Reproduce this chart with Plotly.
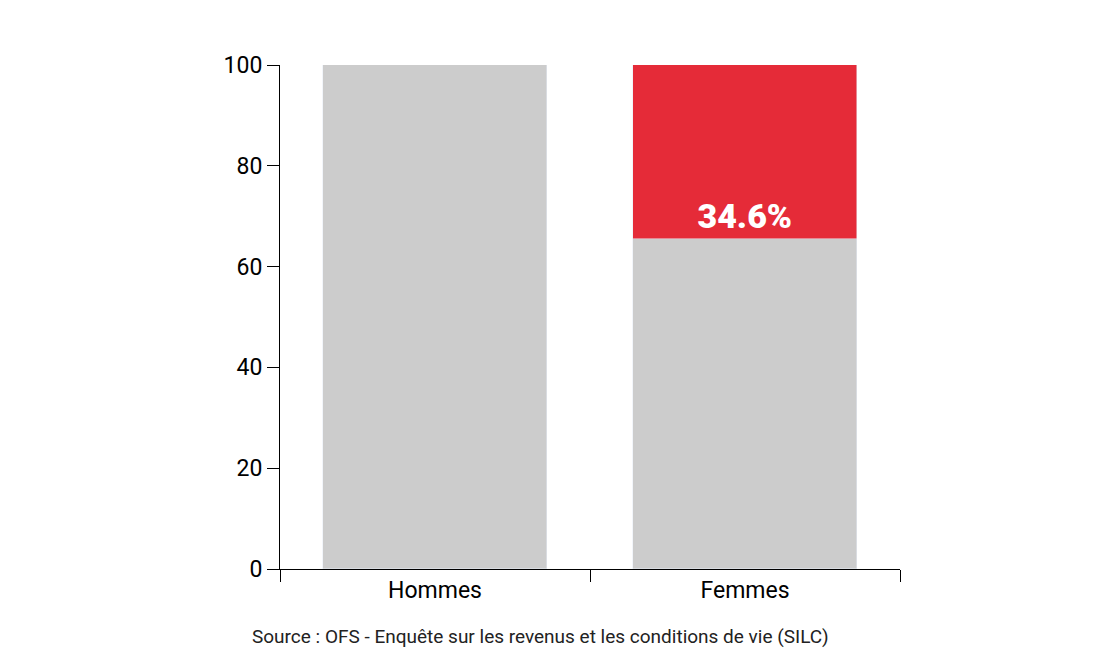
import plotly.graph_objects as go

groups = ["Hommes", "Femmes"]
base_vals = [100, 65.4]
top_vals = [0, 34.6]
top_labels = ["", "34.6%"]

fig = go.Figure()
fig.add_bar(x=groups, y=base_vals, marker_color="#cccccc", width=0.72, hoverinfo="skip")
fig.add_bar(x=groups, y=top_vals, marker_color="#e52b38", width=0.72,
            text=top_labels, textposition="inside", insidetextanchor="start",
            textfont=dict(color="white", size=34, family="Roboto Black, Roboto"),
            hoverinfo="skip")

fig.update_layout(
    barmode="stack", showlegend=False, bargap=0,
    width=1100, height=658,
    margin=dict(l=272, r=208, t=57, b=97),
    plot_bgcolor="white", paper_bgcolor="white",
    font=dict(family="Roboto", color="black"),
    annotations=[dict(text="Source : OFS - Enquête sur les revenus et les conditions de vie (SILC)",
                      x=0.42, xref="paper", y=-0.16, yref="paper", showarrow=False,
                      font=dict(size=19, color="#222"))],
)
fig.update_yaxes(range=[0, 100], dtick=20, showgrid=False, showline=True, linecolor="black",
                 ticks="outside", ticklen=12, tickcolor="black", tickfont=dict(size=23),
                 zeroline=False)
fig.update_xaxes(showline=True, linecolor="black", ticks="outside", ticklen=12,
                 tickson="boundaries", tickcolor="black", tickfont=dict(size=23))

fig.write_html("out.html")
